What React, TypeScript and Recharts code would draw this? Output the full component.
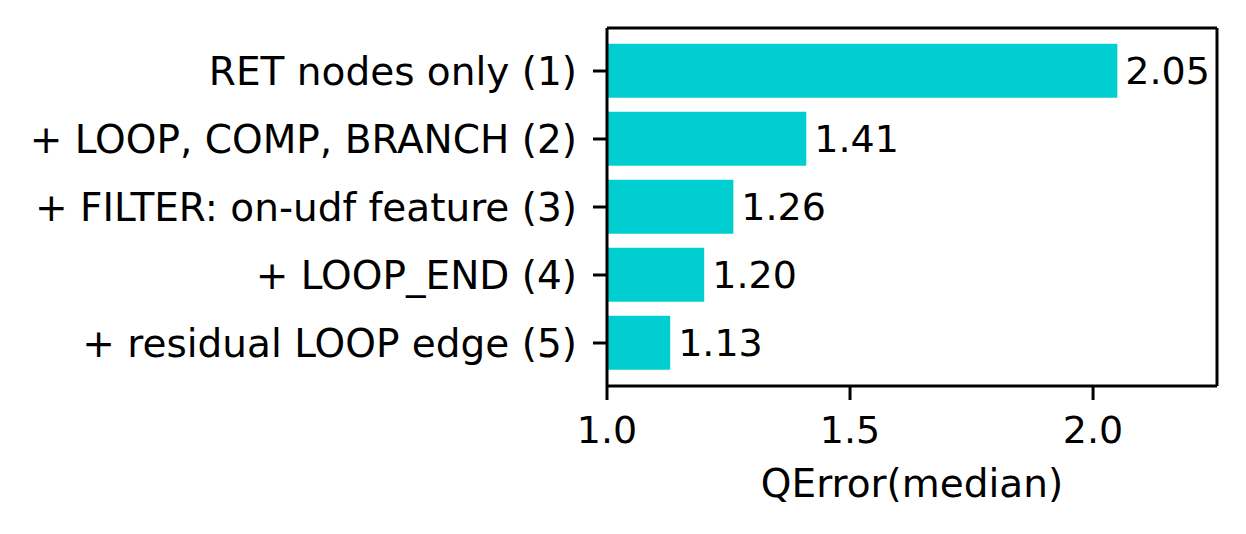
import { BarChart, Bar, XAxis, YAxis, LabelList } from 'recharts';

const categories = [
  'RET nodes only (1)',
  '+ LOOP, COMP, BRANCH (2)',
  '+ FILTER: on-udf feature (3)',
  '+ LOOP_END (4)',
  '+ residual LOOP edge (5)',
];
const qerrorMedian = [2.05, 1.41, 1.26, 1.2, 1.13];
const xTicks = [1.0, 1.5, 2.0];

const data = categories.map((name, i) => ({ name, value: qerrorMedian[i] }));

const FONT = '"DejaVu Sans", sans-serif';
const numStyle = { fill: '#000', fontSize: 38, fontFamily: FONT };
const textStyle = { fill: '#000', fontSize: 39, fontFamily: FONT };
const spine = { stroke: '#000', strokeWidth: 3 };

export default function App() {
  return (
    <div style={{ position: 'absolute', left: 0, top: 0, background: '#fff' }}>
      <BarChart
        width={1246}
        height={534}
        data={data}
        layout="vertical"
        margin={{ top: 27, right: 28, bottom: 88, left: 0 }}
        barCategoryGap="10%"
      >
        <XAxis
          type="number"
          xAxisId="bottom"
          domain={[1, 2.255]}
          ticks={xTicks}
          tickFormatter={(v: number) => v.toFixed(1)}
          allowDataOverflow
          tick={numStyle}
          tickSize={14}
          tickMargin={16}
          height={60}
          axisLine={spine}
          tickLine={spine}
          label={{
            value: 'QError(median)',
            position: 'bottom',
            offset: 23,
            style: textStyle,
          }}
        />
        <XAxis
          type="number"
          xAxisId="top"
          orientation="top"
          domain={[1, 2.255]}
          allowDataOverflow
          height={1}
          tick={false}
          tickLine={false}
          axisLine={spine}
        />
        <YAxis
          type="category"
          yAxisId="left"
          dataKey="name"
          width={607}
          padding={{ top: 9, bottom: 9 }}
          tick={textStyle}
          tickSize={14}
          tickMargin={16}
          interval={0}
          axisLine={spine}
          tickLine={spine}
        />
        <YAxis
          type="category"
          yAxisId="right"
          orientation="right"
          dataKey="name"
          width={1}
          tick={false}
          tickLine={false}
          axisLine={spine}
        />
        <Bar
          dataKey="value"
          xAxisId="bottom"
          yAxisId="left"
          fill="#00CED1"
          isAnimationActive={false}
        >
          <LabelList
            dataKey="value"
            position="right"
            offset={8}
            formatter={(v: number) => v.toFixed(2)}
            style={numStyle}
          />
        </Bar>
      </BarChart>
    </div>
  );
}
